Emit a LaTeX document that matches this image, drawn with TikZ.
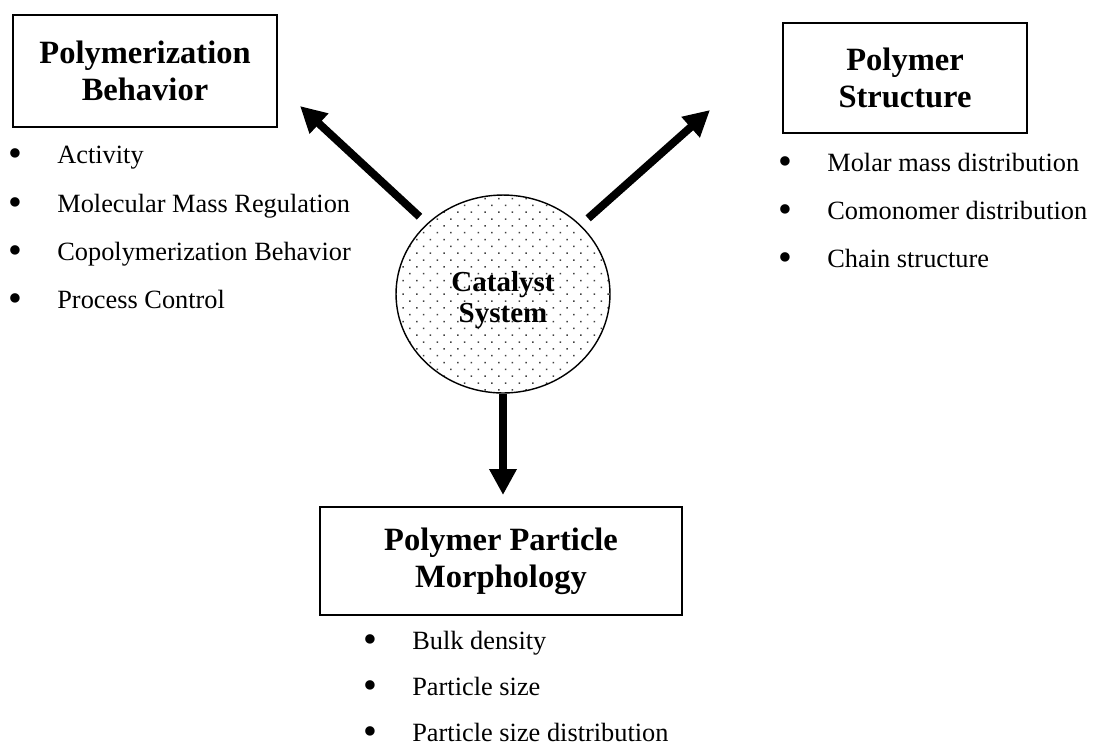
\documentclass[tikz,border=0pt]{standalone}
\usepackage{fontspec}
\setmainfont{Liberation Serif}
\usetikzlibrary{arrows.meta,shapes.geometric,patterns.meta}

\newcommand{\itembul}[1]{\makebox[0.98cm][l]{\raisebox{-2pt}{\scalebox{1.5}{\textbullet}}}#1}

\begin{document}
\begin{tikzpicture}[
    x=0.02cm, y=-0.02cm,
    title/.style={
      draw,
      line width=1.1pt,
      align=center,
      font=\fontsize{18.5}{21}\selectfont\bfseries
    },
    catalyst/.style={
      draw,
      ellipse,
      line width=0.8pt,
      minimum width=4.28cm,
      minimum height=3.96cm,
      pattern={Dots[distance=5.5pt,radius=0.6pt,angle=45]},
      pattern color=black!75
    },
    item/.style={
      anchor=base west,
      inner sep=0pt,
      font=\fontsize{15}{18}\selectfont
    },
    effect/.style={
      line width=4.5pt,
      -{Triangle[length=0.52cm,width=0.52cm]}
    }
  ]
    \useasboundingbox (0,0) rectangle (1095,752);

    \node[catalyst] (cat) at (503,294) {};
    \node[font=\fontsize{16.5}{17.5}\selectfont\bfseries, align=center] (catlabel) at (503,300) {Catalyst\\System};

    \node[title, minimum width=5.28cm, minimum height=2.24cm] (behavior) at (145,71) {Polymerization\\Behavior};
    \node[title, minimum width=4.88cm, minimum height=2.2cm] (structure) at (905,78) {Polymer\\Structure};
    \node[title, minimum width=7.24cm, minimum height=2.16cm] (morphology) at (501,561) {Polymer Particle\\Morphology};

    \coordinate (tipbeh) at (300,106);
    \coordinate (tipstr) at (710,110);
    \coordinate (tipmor) at (503,495);

    \path
      (cat) edge[effect, shorten <=0.2cm] (tipbeh)
            edge[effect, shorten <=0.2cm] (tipstr)
            edge[effect] (tipmor);

    % behavior list
    \node[item] (activity) at (8,163) {\itembul{Activity}};
    \node[item] (massreg) at (8,212) {\itembul{Molecular Mass Regulation}};
    \node[item] (copoly) at (8,260) {\itembul{Copolymerization Behavior}};
    \node[item] (process) at (8,308) {\itembul{Process Control}};

    % structure list
    \node[item] (molar) at (778,171) {\itembul{Molar mass distribution}};
    \node[item] (comono) at (778,219) {\itembul{Comonomer distribution}};
    \node[item] (chain) at (778,267) {\itembul{Chain structure}};

    % morphology list
    \node[item] (bulk) at (363,649) {\itembul{Bulk density}};
    \node[item] (psize) at (363,695) {\itembul{Particle size}};
    \node[item] (psd) at (363,741) {\itembul{Particle size distribution}};
  \end{tikzpicture}
\end{document}
